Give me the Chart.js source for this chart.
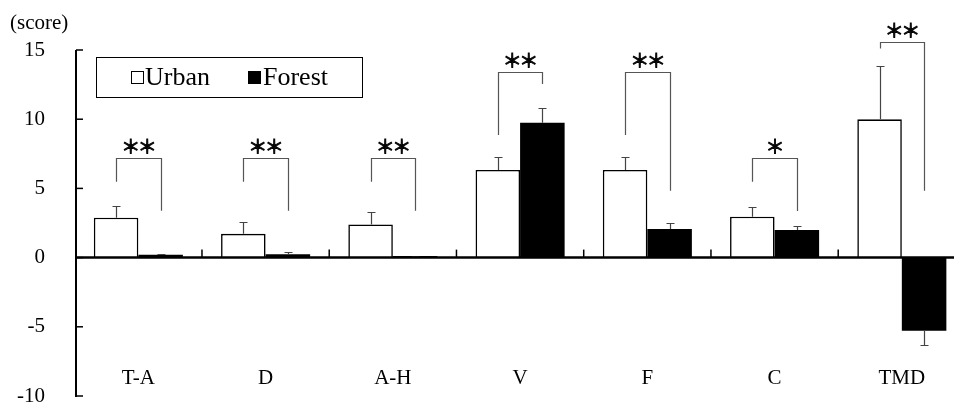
<!DOCTYPE html>
<html><head><meta charset="utf-8">
<script src="https://cdn.jsdelivr.net/npm/chart.js@4/dist/chart.umd.min.js"></script>
<style>html,body{margin:0;padding:0;background:#fff;overflow:hidden}#wrap{width:954px;height:403px;position:relative}</style>
</head><body><div id="wrap"><canvas id="c" width="954" height="403"></canvas></div>
<script>
// ---- data ----
const categories = ['T-A','D','A-H','V','F','C','TMD'];
const seriesNames = ['Urban','Forest'];
const urban = [2.88, 1.72, 2.40, 6.33, 6.33, 2.95, 9.99];
const forest = [0.20, 0.25, 0.12, 9.75, 2.06, 1.99, -5.29];
const urbanErr = [0.82, 0.85, 0.89, 0.91, 0.96, 0.68, 3.88];
const forestErr = [0.05, 0.12, 0.03, 1.08, 0.41, 0.29, 1.06];
const yTicks = [15, 10, 5, 0, -5, -10];
const yTitle = '(score)';
const sigMarks = ['**','**','**','**','**','*','**'];
const bracketTop = [7.17, 7.17, 7.17, 13.39, 13.39, 7.19, 15.6];
const bracketLeftEnd = [5.48, 5.48, 5.48, 8.86, 8.86, 5.48, 15.1];
const bracketRightEnd = [3.38, 3.38, 3.38, 12.55, 4.83, 3.36, 4.83];

const SERIF = '"Liberation Serif","Times New Roman",serif';
const errs = [urbanErr, forestErr];

const decor = {
  id: 'decor',
  afterDatasetsDraw(chart) {
    const {ctx, chartArea: ca, scales: {x, y}} = chart;
    ctx.save();
    // error bars
    ctx.strokeStyle = '#444'; ctx.lineWidth = 1.2;
    chart.data.datasets.forEach((ds, di) => {
      const meta = chart.getDatasetMeta(di);
      meta.data.forEach((bar, i) => {
        const v = ds.data[i].y, e = errs[di][i];
        const end = v >= 0 ? v + e : v - e;
        const py = Math.round(y.getPixelForValue(end)) + 0.5;
        const bx = Math.round(bar.x) + 0.5;
        ctx.beginPath();
        ctx.moveTo(bx, bar.y); ctx.lineTo(bx, py);
        ctx.moveTo(bx - 4, py); ctx.lineTo(bx + 4, py);
        ctx.stroke();
      });
    });
    // brackets and significance marks
    const m0 = chart.getDatasetMeta(0), m1 = chart.getDatasetMeta(1);
    categories.forEach((c, i) => {
      const lx = Math.round(m0.data[i].x) + 0.5, rx = Math.round(m1.data[i].x) + 0.5;
      const ty = Math.round(y.getPixelForValue(bracketTop[i])) + 0.5;
      ctx.strokeStyle = '#555'; ctx.lineWidth = 1.2;
      ctx.beginPath();
      ctx.moveTo(lx, y.getPixelForValue(bracketLeftEnd[i]));
      ctx.lineTo(lx, ty); ctx.lineTo(rx, ty);
      ctx.lineTo(rx, y.getPixelForValue(bracketRightEnd[i]));
      ctx.stroke();
      const marks = sigMarks[i];
      const cx = (lx + rx) / 2;
      ctx.fillStyle = '#000'; ctx.strokeStyle = '#000'; ctx.lineWidth = 0.9;
      ctx.font = '19px "Noto Sans CJK JP"';
      ctx.textAlign = 'center'; ctx.textBaseline = 'middle';
      const gap = 16.7;
      for (let k = 0; k < marks.length; k++) {
        const ox = cx + (k - (marks.length - 1) / 2) * gap;
        ctx.fillText('\uFF0A', ox, ty - 12);
        ctx.strokeText('\uFF0A', ox, ty - 12);
      }
    });
    // axes
    ctx.strokeStyle = '#000';
    const y0 = y.getPixelForValue(0);
    const top = y.getPixelForValue(yTicks[0]), bot = y.getPixelForValue(yTicks[yTicks.length - 1]);
    ctx.lineWidth = 2;
    ctx.beginPath(); ctx.moveTo(ca.left, top); ctx.lineTo(ca.left, bot + 1); ctx.stroke();
    ctx.lineWidth = 1.5;
    yTicks.forEach(v => {
      const py = y.getPixelForValue(v);
      ctx.beginPath(); ctx.moveTo(ca.left, py); ctx.lineTo(ca.left + 7, py); ctx.stroke();
    });
    ctx.lineWidth = 2.5;
    ctx.beginPath(); ctx.moveTo(ca.left, y0); ctx.lineTo(ca.right, y0); ctx.stroke();
    ctx.lineWidth = 1.5;
    for (let i = 0; i < categories.length; i++) {
      const px = x.getPixelForValue(i + 0.5);
      ctx.beginPath(); ctx.moveTo(px, y0); ctx.lineTo(px, y0 - 8); ctx.stroke();
    }
    // y title
    ctx.fillStyle = '#000';
    ctx.font = '21px ' + SERIF;
    ctx.textAlign = 'left'; ctx.textBaseline = 'middle';
    ctx.fillText(yTitle, 10, 23);
    // legend
    ctx.lineWidth = 1;
    ctx.strokeRect(96.5, 57.5, 266, 40);
    ctx.font = '26px ' + SERIF;
    ctx.strokeRect(131.5, 71.5, 12, 12);
    ctx.fillText(seriesNames[0], 145, 78);
    ctx.fillRect(248, 71, 13, 13);
    ctx.fillText(seriesNames[1], 263, 78);
    ctx.restore();
  }
};

new Chart(document.getElementById('c').getContext('2d'), {
  type: 'bar',
  data: {
    datasets: [
      {label: seriesNames[0], data: urban.map((v, i) => ({x: i, y: v})), backgroundColor: '#fff', borderColor: '#000', borderWidth: 1.6, categoryPercentage: 0.7, barPercentage: 1.0},
      {label: seriesNames[1], data: forest.map((v, i) => ({x: i, y: v})), backgroundColor: '#000', borderColor: '#000', borderWidth: 0, categoryPercentage: 0.7, barPercentage: 1.0}
    ]
  },
  options: {
    responsive: false, animation: false,
    layout: {padding: {top: 50, bottom: 7, left: 0, right: 0}},
    plugins: {legend: {display: false}, tooltip: {enabled: false}},
    scales: {
      x: {
        type: 'linear', min: -0.49, max: 6.41, offset: false, position: {y: -7.8},
        grid: {display: false, drawTicks: false}, border: {display: false},
        afterBuildTicks: s => { s.ticks = categories.map((c, i) => ({value: i})); },
        ticks: {callback: v => categories[v] ?? '', font: {family: SERIF, size: 21}, color: '#000', padding: 0, maxRotation: 0, autoSkip: false}
      },
      y: {
        min: -10, max: 15,
        afterBuildTicks: s => { s.ticks = yTicks.map(v => ({value: v})); },
        afterFit: s => { s.width = 76; s.paddingTop = 0; s.paddingBottom = 0; },
        grid: {display: false, drawTicks: false}, border: {display: false},
        ticks: {font: {family: SERIF, size: 21}, color: '#000', padding: 31}
      }
    }
  },
  plugins: [decor]
});
</script>
</body></html>
